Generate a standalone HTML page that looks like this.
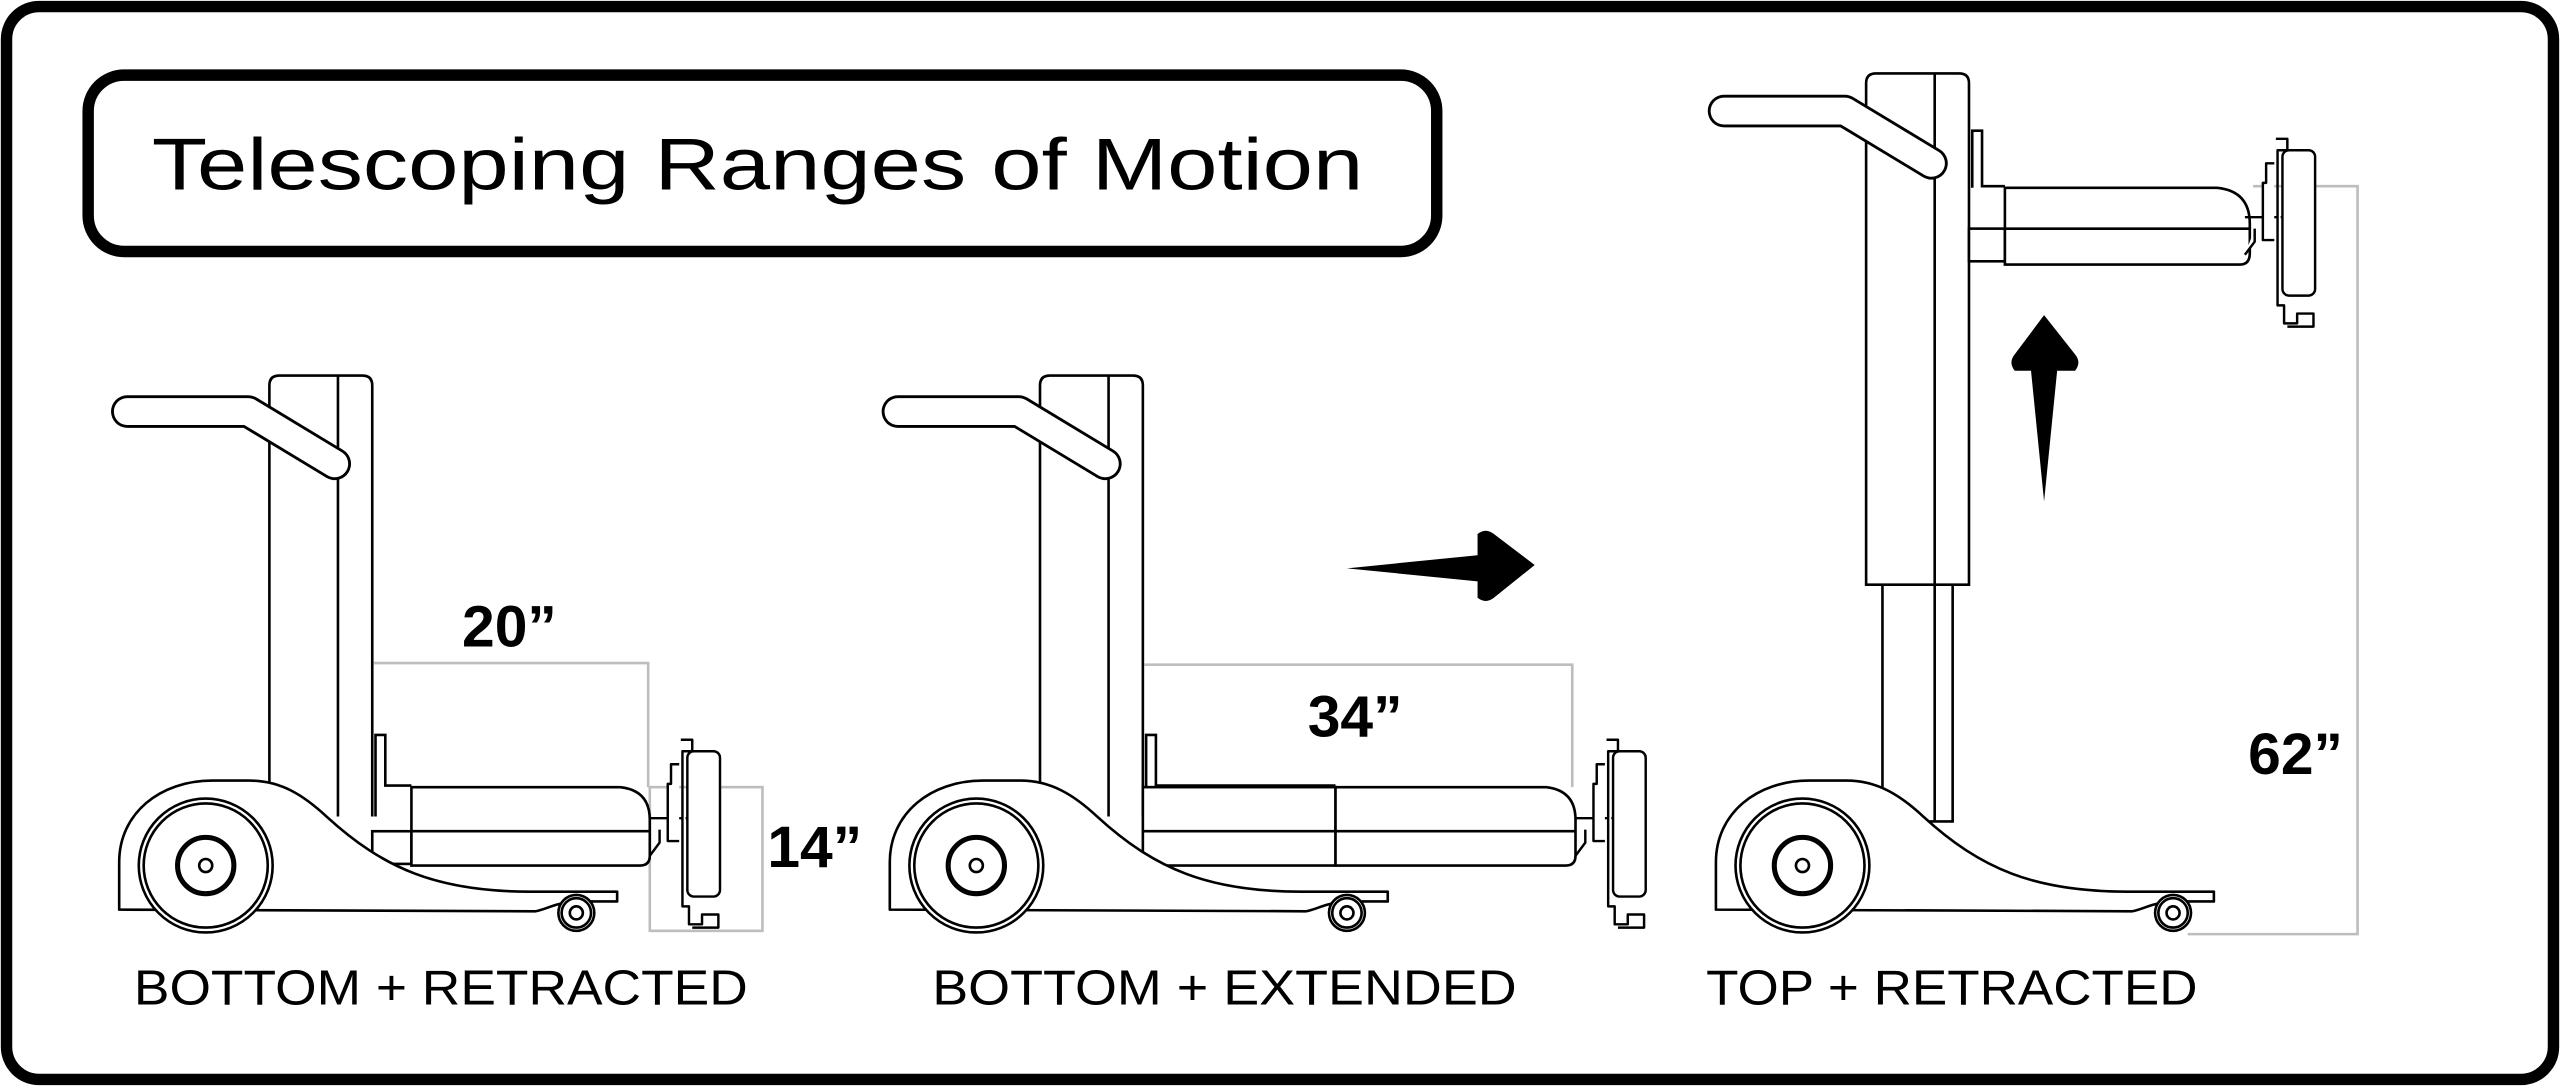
<!DOCTYPE html>
<html><head><meta charset="utf-8"><style>
html,body{margin:0;padding:0;background:#fff;}
svg{display:block;}
text{font-family:"Liberation Sans",sans-serif;fill:#000;}
</style></head><body>
<svg width="2560" height="1086" viewBox="0 0 1568 665" preserveAspectRatio="none" xmlns="http://www.w3.org/2000/svg">
<defs>
<g id="base" fill="#fff" stroke="#000" stroke-width="1.6" stroke-linejoin="round">
  <path d="M73,557 L73,528 C73,498 98,478 130,478 L153,478 C172,478 186,487 200,500 C235,532 268,546 325,546 L378,546 L378,552 L352,552 C340,553 334,557 328,558 Z"/>
  <circle cx="126" cy="530" r="41"/>
  <circle cx="126" cy="530" r="38"/>
  <circle cx="126" cy="530" r="18"/>
  <circle cx="126" cy="530" r="16.5"/>
  <circle cx="126" cy="530" r="4"/>
  <circle cx="353" cy="559" r="11"/>
  <circle cx="353" cy="559" r="9"/>
  <circle cx="353" cy="559" r="4"/>
</g>
<g id="col" fill="none" stroke="#000" stroke-width="1.6">
  <path d="M165,500 L165,236 Q165,230 171,230 L222,230 Q228,230 228,236 L228,500" fill="#fff"/>
  <line x1="207" y1="230" x2="207" y2="500"/>
</g>
<g id="handle" fill="none" stroke-linecap="round" stroke-linejoin="round">
  <polyline points="78,252 152,252 205,284" stroke="#000" stroke-width="20"/>
  <polyline points="78,252 152,252 205,284" stroke="#fff" stroke-width="16.5"/>
</g>
<g id="mount" fill="#fff" stroke="#000" stroke-width="1.5" stroke-linejoin="round">
  <line x1="398" y1="501" x2="421" y2="501"/>
  <path d="M417,453 L424,453 L424,460 L418,460 L418,555 L422,555 L422,566 L430,566 L430,560 L440,560 L440,568 L424,568"/>
  <path d="M416,468 L411,468 L411,480 L409,480 L409,515 L416,515"/>
  <path d="M404,508 L404,516 L398,524"/>
  <rect x="421" y="460" width="20" height="89" rx="4"/>
</g>
</defs>

<rect x="4" y="4" width="1560" height="657" rx="20" fill="#fff" stroke="#000" stroke-width="7"/>
<rect x="54" y="46" width="826" height="108" rx="22" fill="#fff" stroke="#000" stroke-width="7"/>
<text x="93" y="116" font-size="45" textLength="742" lengthAdjust="spacingAndGlyphs">Telescoping Ranges of Motion</text>

<!-- gray dims -->
<g fill="none" stroke="#bdbdbd" stroke-width="1.6">
  <polyline points="229,406 397,406 397,482"/>
  <rect x="398" y="482" width="69" height="88"/>
  <polyline points="701,407 963,407 963,482"/>
  <polyline points="1380,114 1444,114 1444,572 1340,572"/>
</g>

<!-- cart 1 -->
<use href="#col"/>
<use href="#handle"/>
<g fill="#fff" stroke="#000" stroke-width="1.6">
  <path d="M230,500 L230,450 L236,450 L236,481 L252,481" fill="none"/>
  <rect x="228" y="509" width="24" height="20"/>
  <path d="M252,482 L380,482 Q398,484 398,502 L398,524 Q398,530 392,530 L252,530 Z"/>
  <line x1="252" y1="509" x2="398" y2="509"/>
</g>
<use href="#base"/>
<use href="#mount"/>

<!-- cart 2 -->
<use href="#col" transform="translate(472,0)"/>
<use href="#handle" transform="translate(472,0)"/>
<g fill="#fff" stroke="#000" stroke-width="1.6">
  <path d="M702,500 L702,450 L708,450 L708,481 L818,481" fill="none"/>
  <rect x="700" y="482" width="118" height="48"/>
  <line x1="700" y1="509" x2="818" y2="509"/>
  <path d="M818,482 L947,482 Q965,484 965,502 L965,524 Q965,530 959,530 L818,530 Z"/>
  <line x1="818" y1="509" x2="965" y2="509"/>
</g>
<use href="#base" transform="translate(472,0)"/>
<use href="#mount" transform="translate(567,0)"/>

<!-- cart 3 -->
<g fill="#fff" stroke="#000" stroke-width="1.6">
  <rect x="1153" y="358" width="43" height="145"/>
  <line x1="1185" y1="358" x2="1185" y2="503"/>
  <path d="M1143,358 L1143,51 Q1143,45 1149,45 L1200,45 Q1206,45 1206,51 L1206,358 Z"/>
  <line x1="1185" y1="45" x2="1185" y2="358"/>
</g>
<use href="#handle" transform="translate(978,-184)"/>
<g fill="#fff" stroke="#000" stroke-width="1.6">
  <path d="M1208,115 L1208,80 L1214,80 L1214,114 L1228,114" fill="none"/>
  <rect x="1206" y="140" width="22" height="20"/>
  <path d="M1228,115 L1358,115 Q1378,117 1378,137 L1378,155 Q1378,162 1372,162 L1228,162 Z"/>
  <line x1="1228" y1="140" x2="1378" y2="140"/>
</g>
<use href="#base" transform="translate(978,0)"/>
<use href="#mount" transform="translate(977,-368)"/>

<!-- arrows -->
<path d="M825,348 L905,340 L905,327 Q910,323 915,327 L940,346 L915,366 Q910,370 905,366 L905,356 Z" fill="#000"/>
<path d="M1252,307 L1244,227 L1234,227 Q1230,222 1234,217 L1252,193 L1271,217 Q1275,222 1271,227 L1260,227 Z" fill="#000"/>

<!-- dim labels -->
<text x="283" y="396" font-size="36" font-weight="bold">20”</text>
<text x="470" y="531" font-size="36" font-weight="bold">14”</text>
<text x="801" y="451" font-size="36" font-weight="bold">34”</text>
<text x="1377" y="474" font-size="36" font-weight="bold">62”</text>

<!-- captions -->
<text x="82" y="615" font-size="30" textLength="376" lengthAdjust="spacingAndGlyphs">BOTTOM + RETRACTED</text>
<text x="571" y="615" font-size="30" textLength="358" lengthAdjust="spacingAndGlyphs">BOTTOM + EXTENDED</text>
<text x="1045" y="615" font-size="30" textLength="301" lengthAdjust="spacingAndGlyphs">TOP + RETRACTED</text>
</svg>
</body></html>
